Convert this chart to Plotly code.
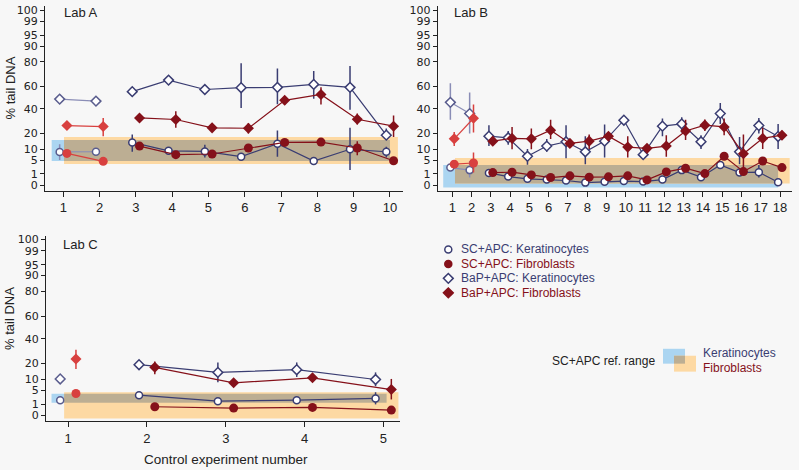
import math
import plotly.graph_objects as go

# ---------------- data (percent tail DNA) ----------------
tick_pct = [0, 1, 5, 10, 20, 40, 60, 80, 90, 95, 99, 100]
series_names = ["SC+APC: Keratinocytes", "SC+APC: Fibroblasts",
                "BaP+APC: Keratinocytes", "BaP+APC: Fibroblasts"]

# Lab A (experiments 1-10; first 2 are earlier experiments)
A_x = list(range(1, 11))
A_prior = 2
A_sc_ker = [8.6, 8.7, 14.0, 9.2, 8.9, 6.4, 13.2, 4.6, 10.0, 8.7]
A_sc_ker_hi = [12.8, None, 19.3, 11.3, 12.6, None, 22.2, None, 24.2, 11.4]
A_sc_ker_lo = [5.0, None, 8.7, 7.1, 6.0, None, 6.4, None, 1.8, 6.0]
A_sc_fib = [7.9, 4.5, 11.8, 7.3, 7.6, 10.7, 14.0, 14.2, 10.7, 4.7]
A_sc_fib_hi = [None, None, None, None, None, None, None, None, 14.7, None]
A_sc_fib_lo = [None, None, None, None, None, None, None, None, 7.0, None]
A_bap_ker = [48.7, 46.9, 55.4, 65.5, 57.3, 58.9, 59.2, 61.8, 59.2, 18.8]
A_bap_ker_hi = [None, None, 58.5, None, None, 78.9, 75.0, 73.1, 77.0, 23.7]
A_bap_ker_lo = [None, None, 52.0, None, None, 40.7, 44.0, 49.0, 39.3, 15.6]
A_bap_fib = [26.0, 25.2, 32.2, 30.9, 24.2, 23.9, 47.6, 52.9, 31.1, 25.5]
A_bap_fib_hi = [None, 32.2, None, 37.9, None, 27.9, 51.2, 59.4, 35.9, 34.2]
A_bap_fib_lo = [None, 18.1, None, 24.2, None, 19.9, 43.8, 43.8, 26.8, 17.5]

# Lab B (experiments 1-18; first 2 are earlier experiments)
B_x = list(range(1, 19))
B_prior = 2
B_sc_ker = [2.45, 1.8, 1.2, 0.59, 0.32, 0.25, 0.17, 0.05, 0.09, 0.13, 0.1, 0.25,
            1.8, 0.51, 3.26, 1.26, 1.34, 0.07]
B_sc_ker_hi = [None, 4.6, None, None, None, None, None, None, None, None, None, None,
               None, None, None, None, 3.2, None]
B_sc_ker_lo = [None, 0.46, None, None, None, None, None, None, None, None, None, None,
               None, None, None, None, 0.46, None]
B_sc_fib = [3.5, 3.9, 1.26, 1.34, 0.84, 0.46, 0.69, 0.51, 0.55, 0.69, 0.22, 1.4,
            2.29, 1.07, 6.55, 1.46, 4.6, 2.45]
B_sc_fib_hi = [None, 8.3, None, None, None, None, None, None, None, None, None, None,
               None, None, None, None, None, None]
B_sc_fib_lo = [None, 1.26, None, None, None, None, None, None, None, None, None, None,
               None, None, None, None, None, None]
B_bap_ker = [45.8, 35.9, 18.1, 17.0, 6.55, 11.8, 14.4, 8.7, 14.8, 30.3, 7.3, 25.5,
             27.3, 14.4, 35.9, 8.7, 26.0, 17.9]
B_bap_ker_hi = [62.9, 54.7, 26.3, 21.8, 10.2, 16.2, 26.3, 18.1, 26.8, None, None, 31.7,
                32.7, 18.8, 45.2, 17.5, 32.2, 27.3]
B_bap_ker_lo = [30.6, 19.9, 11.8, 12.6, 3.3, 8.7, 5.7, 3.5, 6.0, None, None, 18.1,
                20.7, 10.2, 27.3, 3.5, 19.9, 10.2]
B_bap_fib = [16.3, 31.9, 14.8, 16.6, 16.3, 22.4, 13.4, 14.8, 18.1, 11.2, 10.5, 11.8,
             21.8, 26.3, 24.9, 7.7, 16.6, 18.8]
B_bap_fib_hi = [21.1, 43.8, None, 24.9, 23.7, 30.6, None, 19.3, None, 18.1, None, 18.8,
                30.6, 30.9, 31.7, 19.3, 24.2, 22.0]
B_bap_fib_lo = [11.8, 20.7, None, 10.0, 10.0, 16.2, None, 10.2, None, 6.0, None, 6.3,
                15.6, 21.8, 18.8, 1.0, 10.2, 15.8]

# Lab C (experiments 1-5; first 1 is an earlier experiment)
C_x = list(range(1, 6))
C_prior = 1
C_sc_ker = [1.83, 3.2, 1.6, 1.83, 2.26]
C_sc_ker_hi = [None, None, None, None, 4.2]
C_sc_ker_lo = [None, None, None, None, 0.95]
C_sc_fib = [3.76, 0.59, 0.42, 0.5, 0.22]
C_sc_fib_hi = [None, None, None, None, None]
C_sc_fib_lo = [None, None, None, None, None]
C_bap_ker = [10.2, 19.1, 14.0, 15.7, 9.9]
C_bap_ker_hi = [None, 22.2, 20.7, 20.7, 14.0]
C_bap_ker_lo = [None, 15.7, 8.5, 11.3, 6.6]
C_bap_fib = [23.2, 17.3, 8.2, 10.8, 5.2]
C_bap_fib_hi = [30.5, 21.4, None, 12.5, 10.2]
C_bap_fib_lo = [16.2, 12.9, None, 9.0, 2.0]

# SC+APC reference ranges: (x from, x to, % low, % high)
A_ref_ker = (0.68, 10.0, 4.6, 15.5)
A_ref_fib = (1.02, 10.22, 3.57, 17.5)
B_ref_ker = (0.53, 17.9, -0.05, 3.25)
B_ref_fib = (1.14, 18.5, 0.02, 5.8)
C_ref_ker = (0.79, 5.04, 1.26, 3.67)
C_ref_fib = (0.95, 5.19, -0.08, 4.2)

# ---------------- styling ----------------
NAVY = "#3a3d72"
NAVY_LIGHT = "#8a8db6"
DRED = "#85111a"
RED_LIGHT = "#d8403f"
BLUE_BAND = "#abd5f1"
ORANGE_BAND = "#fdd9a3"
OVERLAP_BAND = "#bcae93"
BG = "#f7f7f7"
TXT = "#222222"
FONT = "Liberation Sans, Arial, sans-serif"
TICKFONT = "DejaVu Sans, sans-serif"
OFFSET = 0.1


def T(p):
    s = 1 if p >= 0 else -1
    return s * math.asin(math.sqrt(min(abs(p), 100) / 100.0))


fig = go.Figure()


def add_series(xs, vals, hi, lo, n_prior, kind, treat, xa, ya):
    ker = kind == "ker"
    off = -OFFSET if ker else OFFSET
    symbol = "circle" if treat == "sc" else "diamond"
    if treat == "sc":
        size = 7 if ker else 8
    else:
        size = 7.5
    groups = [(0, n_prior, True), (n_prior, len(xs), False)]
    for a, b, prior in groups:
        if b <= a:
            continue
        xx = [x + off for x in xs[a:b]]
        yy = [T(v) for v in vals[a:b]]
        ep = [(T(h) - T(v)) if h is not None else 0 for h, v in zip(hi[a:b], vals[a:b])]
        em = [(T(v) - T(l)) if l is not None else 0 for l, v in zip(lo[a:b], vals[a:b])]
        if ker:
            lc = NAVY_LIGHT if prior else NAVY
            mc = "#5a5d8e" if prior else NAVY
            marker = dict(symbol=symbol, size=size, color="white",
                          line=dict(color=mc, width=1.5))
        else:
            lc = RED_LIGHT if prior else DRED
            mc = RED_LIGHT if prior else DRED
            marker = dict(symbol=symbol, size=size + 1, color=mc, line=dict(width=0))
        fig.add_trace(go.Scatter(
            x=xx, y=yy, mode="lines+markers", xaxis=xa, yaxis=ya,
            line=dict(color=lc, width=1.2), marker=marker,
            error_y=dict(type="data", symmetric=False, array=ep, arrayminus=em,
                         color=lc, thickness=1.5, width=0),
            showlegend=False, hoverinfo="skip"))


labs = [
    ("x", "y", A_x, A_prior, [(A_sc_ker, A_sc_ker_hi, A_sc_ker_lo, "ker", "sc"),
                              (A_sc_fib, A_sc_fib_hi, A_sc_fib_lo, "fib", "sc"),
                              (A_bap_ker, A_bap_ker_hi, A_bap_ker_lo, "ker", "bap"),
                              (A_bap_fib, A_bap_fib_hi, A_bap_fib_lo, "fib", "bap")],
     A_ref_ker, A_ref_fib),
    ("x2", "y2", B_x, B_prior, [(B_sc_ker, B_sc_ker_hi, B_sc_ker_lo, "ker", "sc"),
                                (B_sc_fib, B_sc_fib_hi, B_sc_fib_lo, "fib", "sc"),
                                (B_bap_ker, B_bap_ker_hi, B_bap_ker_lo, "ker", "bap"),
                                (B_bap_fib, B_bap_fib_hi, B_bap_fib_lo, "fib", "bap")],
     B_ref_ker, B_ref_fib),
    ("x3", "y3", C_x, C_prior, [(C_sc_ker, C_sc_ker_hi, C_sc_ker_lo, "ker", "sc"),
                                (C_sc_fib, C_sc_fib_hi, C_sc_fib_lo, "fib", "sc"),
                                (C_bap_ker, C_bap_ker_hi, C_bap_ker_lo, "ker", "bap"),
                                (C_bap_fib, C_bap_fib_hi, C_bap_fib_lo, "fib", "bap")],
     C_ref_ker, C_ref_fib),
]

shapes = []
for xa, ya, xs, npri, series, rk, rf in labs:
    for vals, hi, lo, kind, treat in series:
        add_series(xs, vals, hi, lo, npri, kind, treat, xa, ya)
    shapes.append(dict(type="rect", xref=xa, yref=ya, layer="below",
                       x0=rk[0], x1=rk[1], y0=T(rk[2]), y1=T(rk[3]),
                       fillcolor=BLUE_BAND, line=dict(width=0)))
    shapes.append(dict(type="rect", xref=xa, yref=ya, layer="below",
                       x0=rf[0], x1=rf[1], y0=T(rf[2]), y1=T(rf[3]),
                       fillcolor=ORANGE_BAND, line=dict(width=0)))
    ox0, ox1 = max(rk[0], rf[0]), min(rk[1], rf[1])
    oy0, oy1 = max(rk[2], rf[2]), min(rk[3], rf[3])
    shapes.append(dict(type="rect", xref=xa, yref=ya, layer="below",
                       x0=ox0, x1=ox1, y0=T(oy0), y1=T(oy1),
                       fillcolor=OVERLAP_BAND, line=dict(width=0)))

# ---------------- manual legend ----------------
leg_kind = ["ker", "fib", "ker", "fib"]
leg_symbol = ["circle", "circle", "diamond", "diamond"]
for i, (nm, k, sym) in enumerate(zip(series_names, leg_kind, leg_symbol)):
    col = NAVY if k == "ker" else DRED
    fill = "white" if k == "ker" else DRED
    fig.add_trace(go.Scatter(x=[0], y=[i], xaxis="x4", yaxis="y4", mode="markers",
                             marker=dict(symbol=sym, size=7 if sym == "circle" else 7.5,
                                         color=fill, line=dict(color=col, width=1.5)),
                             showlegend=False, hoverinfo="skip"))

W, H = 799, 470
def px_x(p):
    return p / W
def px_y(p):
    return 1 - p / H

yticks = [T(p) for p in tick_pct]
ylabels = [str(p) for p in tick_pct]

axis_common = dict(showgrid=False, zeroline=False, showline=True, linecolor=TXT,
                   linewidth=1, ticks="outside", ticklen=5, tickcolor=TXT, tickwidth=1,
                   tickfont=dict(size=13, color=TXT, family=FONT))
yaxis_common = dict(axis_common, tickvals=yticks, ticktext=ylabels, ticklen=4,
                    tickfont=dict(size=11, color=TXT, family=TICKFONT))

annotations = [
    dict(text="Lab A", x=px_x(62), y=px_y(11), xref="paper", yref="paper",
         xanchor="left", yanchor="middle", showarrow=False, font=dict(size=13, color=TXT)),
    dict(text="Lab B", x=px_x(452), y=px_y(11), xref="paper", yref="paper",
         xanchor="left", yanchor="middle", showarrow=False, font=dict(size=13, color=TXT)),
    dict(text="Lab C", x=px_x(61), y=px_y(244), xref="paper", yref="paper",
         xanchor="left", yanchor="middle", showarrow=False, font=dict(size=13, color=TXT)),
    dict(text="% tail DNA", x=px_x(10), y=px_y(87), xref="paper", yref="paper",
         textangle=-90, xanchor="center", yanchor="middle", showarrow=False,
         font=dict(size=13, color=TXT)),
    dict(text="% tail DNA", x=px_x(10), y=px_y(319), xref="paper", yref="paper",
         textangle=-90, xanchor="center", yanchor="middle", showarrow=False,
         font=dict(size=13, color=TXT)),
    dict(text="Control experiment number", x=px_x(226), y=px_y(460), xref="paper",
         yref="paper", xanchor="center", yanchor="middle", showarrow=False,
         font=dict(size=13.5, color=TXT)),
    dict(text="SC+APC ref. range", x=px_x(657), y=px_y(361), xref="paper", yref="paper",
         xanchor="right", yanchor="middle", showarrow=False, font=dict(size=12, color=TXT)),
    dict(text="Keratinocytes", x=px_x(701), y=px_y(353.5), xref="paper", yref="paper",
         xanchor="left", yanchor="middle", showarrow=False, font=dict(size=12, color=NAVY)),
    dict(text="Fibroblasts", x=px_x(701), y=px_y(368), xref="paper", yref="paper",
         xanchor="left", yanchor="middle", showarrow=False, font=dict(size=12, color=DRED)),
]
for i, (nm, k) in enumerate(zip(series_names, leg_kind)):
    annotations.append(dict(text=nm, x=11, y=i, xref="x4", yref="y4", xanchor="left",
                            yanchor="middle", showarrow=False,
                            font=dict(size=12, color=NAVY if k == "ker" else DRED)))

# ref range legend squares
shapes += [
    dict(type="rect", xref="paper", yref="paper", x0=px_x(663), x1=px_x(685),
         y0=px_y(364), y1=px_y(349), fillcolor=BLUE_BAND, line=dict(width=0)),
    dict(type="rect", xref="paper", yref="paper", x0=px_x(674), x1=px_x(696),
         y0=px_y(372), y1=px_y(356), fillcolor=ORANGE_BAND, line=dict(width=0)),
    dict(type="rect", xref="paper", yref="paper", x0=px_x(674), x1=px_x(685),
         y0=px_y(364), y1=px_y(356), fillcolor=OVERLAP_BAND, line=dict(width=0)),
]

fig.update_layout(
    width=W, height=H, margin=dict(l=0, r=0, t=0, b=0),
    paper_bgcolor=BG, plot_bgcolor=BG, showlegend=False,
    font=dict(family=FONT, color=TXT),
    xaxis=dict(axis_common, domain=[px_x(45), px_x(403)], range=[0.496, 10.36],
               tickvals=A_x, anchor="y"),
    yaxis=dict(yaxis_common, domain=[px_y(190), px_y(4)], range=[-0.051, 1.609],
               anchor="x"),
    xaxis2=dict(axis_common, domain=[px_x(437.7), px_x(792)], range=[0.243, 18.62],
                tickvals=B_x, anchor="y2"),
    yaxis2=dict(yaxis_common, domain=[px_y(190), px_y(4)], range=[-0.051, 1.609],
                anchor="x2"),
    xaxis3=dict(axis_common, domain=[px_x(46), px_x(400)], range=[0.72, 5.21],
                tickvals=C_x, anchor="y3"),
    yaxis3=dict(yaxis_common, domain=[px_y(421.7), px_y(235)], range=[-0.0506, 1.606],
                anchor="x3"),
    xaxis4=dict(domain=[px_x(440), px_x(640)], range=[-8.3, 191.7], visible=False,
                anchor="y4"),
    yaxis4=dict(domain=[px_y(300), px_y(240)], range=[3.5, -0.618], visible=False,
                anchor="x4"),
    shapes=shapes, annotations=annotations,
)

fig.write_html("out.html", config={"displayModeBar": False},
               post_script="document.body.style.margin='0';"
                           "document.body.style.overflow='hidden';")
